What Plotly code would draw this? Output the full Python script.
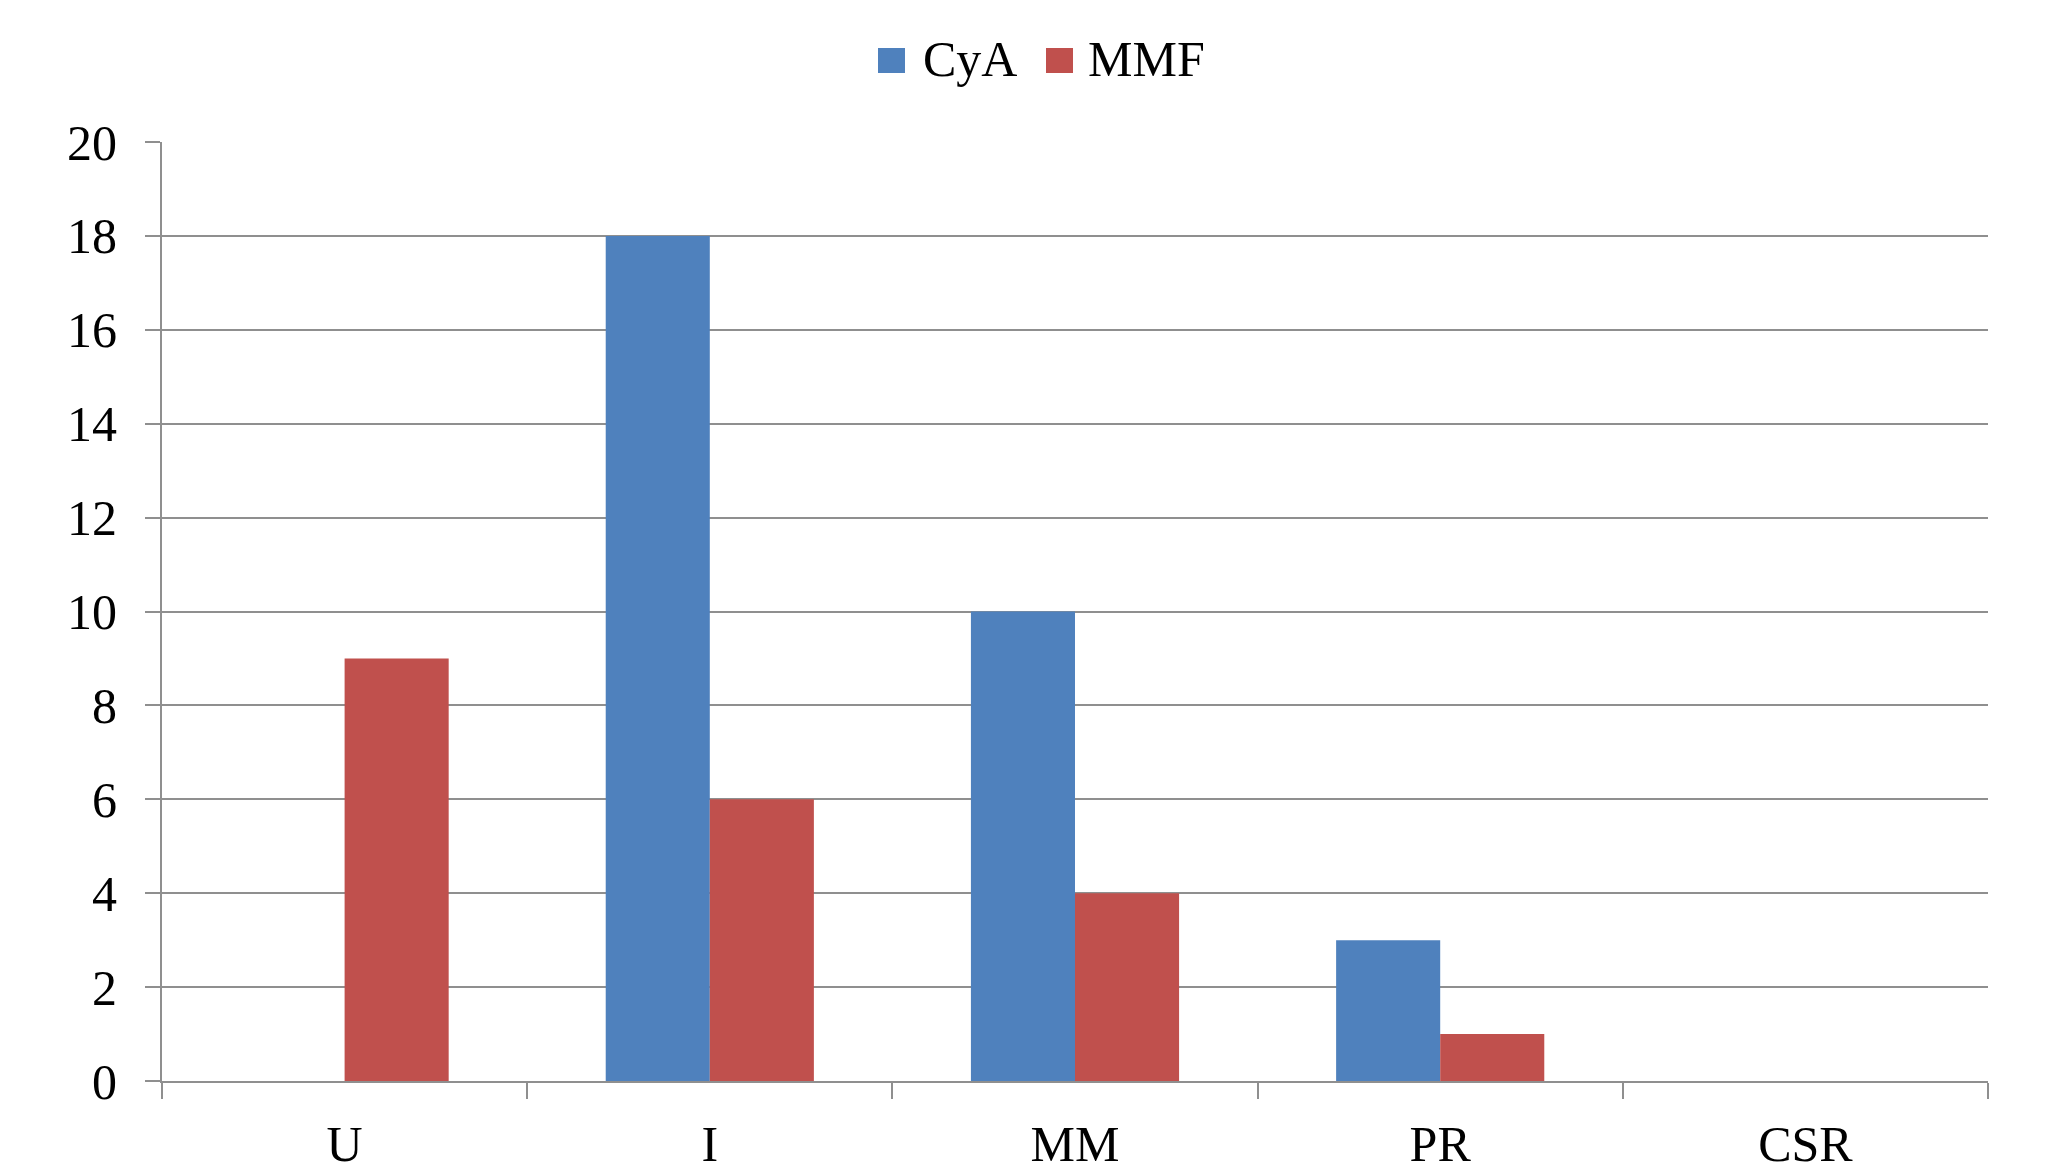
import plotly.graph_objects as go

categories = ["U", "I", "MM", "PR", "CSR"]
cya_values = [0, 18, 10, 3, 0]
mmf_values = [9, 6, 4, 1, 0]
series_names = ["CyA", "MMF"]
series_colors = ["#4F81BD", "#C0504D"]
y_ticks = list(range(0, 21, 2))

OFF = 8  # default page body margin
W, H = 2051 - OFF, 1165 - OFF
L_PAGE, T_PAGE = 162, 142
L, R, T, B = L_PAGE - OFF, 63, T_PAGE - OFF, 84
PW, PH = W - L - R, H - T - B
FONT = "Liberation Serif"
GRID = "#8f8f8f"

fig = go.Figure()
for name, vals, col in zip(series_names, [cya_values, mmf_values], series_colors):
    fig.add_trace(go.Bar(x=categories, y=vals, name=name, marker=dict(color=col, line=dict(width=0)),
                         showlegend=False))

fig.update_layout(
    width=W, height=H,
    margin=dict(l=L, r=R, t=T, b=B, autoexpand=False),
    paper_bgcolor="white", plot_bgcolor="white",
    barmode="group", bargap=0.43, bargroupgap=0,
    font=dict(family=FONT, size=50, color="black"),
    showlegend=False,
)
fig.update_xaxes(
    type="category", range=[-0.5, 4.5], showline=True, linecolor=GRID, linewidth=2,
    ticks="outside", tickson="boundaries", ticklen=16, tickcolor=GRID, tickwidth=2,
    showgrid=False, automargin=False, ticklabelstandoff=18,
    tickfont=dict(family=FONT, size=50, color="black"),
)
fig.update_yaxes(
    range=[0, 20], tickvals=y_ticks, showline=True, linecolor=GRID, linewidth=2,
    ticks="outside", ticklen=15, tickcolor=GRID, tickwidth=2,
    showgrid=True, gridcolor=GRID, gridwidth=2, zeroline=False, automargin=False,
    ticklabelstandoff=18, tickfont=dict(family=FONT, size=50, color="black"),
)

# manual legend (large square swatches), positions in page pixels
legend_items = [(878, 905, 922), (1046, 1073, 1087)]
for (sx0, sx1, tx), name, col in zip(legend_items, series_names, series_colors):
    fig.add_shape(type="rect", xref="paper", yref="paper", xsizemode="pixel", ysizemode="pixel",
                  xanchor=0, yanchor=1, x0=sx0 - L_PAGE, x1=sx1 - L_PAGE,
                  y0=T_PAGE - 73, y1=T_PAGE - 48,
                  fillcolor=col, line=dict(width=0))
    fig.add_annotation(xref="paper", yref="paper", x=(tx - L_PAGE) / PW, y=1 + (T_PAGE - 59) / PH,
                       xanchor="left", yanchor="middle", text=name, showarrow=False,
                       font=dict(family=FONT, size=50, color="black"), borderpad=0)

fig.write_html("out.html")
